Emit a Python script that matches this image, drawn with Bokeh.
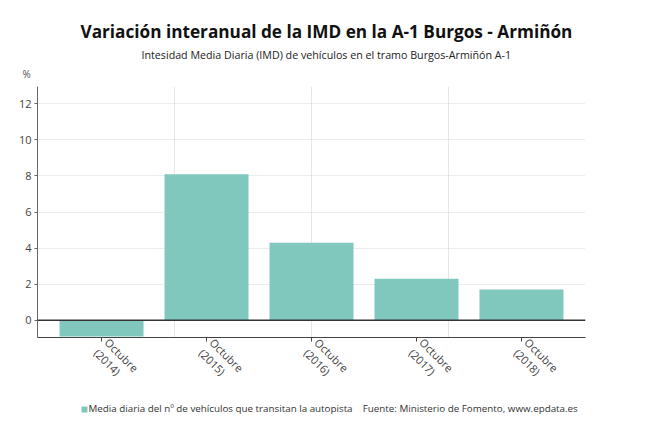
import math

from bokeh.embed import file_html
from bokeh.models import ColumnDataSource, FixedTicker, LinearAxis, Range1d, Span, Title
from bokeh.plotting import figure
from bokeh.resources import INLINE

# Year-on-year change of the average daily traffic (IMD), A-1 Burgos - Armiñón
years = ["2014", "2015", "2016", "2017", "2018"]
month = "Octubre"
variation = [-0.9, 8.1, 4.3, 2.3, 1.7]
y_ticks = [0, 2, 4, 6, 8, 10, 12]

title_text = "Variación interanual de la IMD en la A-1 Burgos - Armiñón"
subtitle_text = "Intesidad Media Diaria (IMD) de vehículos en el tramo Burgos-Armiñón A-1"
unit_text = "%"
series_name = "Media diaria del nº de vehículos que transitan la autopista"
source_text = "Fuente: Ministerio de Fomento, www.epdata.es"

FONT = "Open Sans"
BAR = "#80c8be"
TEXT = "#333333"
W, H = 650, 438
BORDER_L, BORDER_R, BORDER_T, BORDER_B = 37, 65, 86, 101
FRAME_W = W - BORDER_L - BORDER_R

xs = list(range(len(years)))
labels = {i: f"{month}\n({y})" for i, y in zip(xs, years)}
src = ColumnDataSource(dict(x=xs, top=variation))

x_lo, x_hi = -0.61, len(years) - 1 + 0.61
span = x_hi - x_lo

p = figure(
    width=W, height=H,
    output_backend="svg", toolbar_location=None,
    x_range=Range1d(x_lo, x_hi), y_range=Range1d(-0.96, 12.96),
    min_border_left=BORDER_L, min_border_right=BORDER_R,
    min_border_top=BORDER_T, min_border_bottom=BORDER_B,
    background_fill_color="white", border_fill_color="white",
    outline_line_color=None,
)

bars = p.vbar(x="x", top="top", bottom=0, width=0.8, source=src,
              fill_color=BAR, line_color=None)

# zero line
p.add_layout(Span(location=0, dimension="width", line_color="#333333", line_width=1.5))

# horizontal grid: dotted light grey
p.ygrid.ticker = FixedTicker(ticks=y_ticks)
p.ygrid.grid_line_color = "#d9d9d9"
p.ygrid.grid_line_dash = "1 1"
p.ygrid.grid_line_width = 1

# vertical grid: four equal bands across the frame
p.xgrid.ticker = FixedTicker(ticks=[x_lo + span * k / 4 for k in (1, 2, 3, 4)])
p.xgrid.grid_line_color = "#e6e6e6"
p.xgrid.grid_line_width = 1

# y axis
p.yaxis.ticker = FixedTicker(ticks=y_ticks)
p.yaxis.axis_line_color = "#666666"
p.yaxis.major_tick_line_color = "#666666"
p.yaxis.major_tick_out = 3
p.yaxis.major_tick_in = 0
p.yaxis.minor_tick_line_color = None
p.yaxis.major_label_standoff = 3
p.yaxis.major_label_text_font = FONT
p.yaxis.major_label_text_font_size = "11px"
p.yaxis.major_label_text_color = "#444444"

# x axis with slanted two-line category labels
p.xaxis.ticker = FixedTicker(ticks=xs)
p.xaxis.major_label_overrides = labels
p.xaxis.major_label_orientation = -math.pi / 4
p.xaxis.axis_line_color = "#444444"
p.xaxis.major_tick_line_color = "#444444"
p.xaxis.major_tick_out = 4
p.xaxis.major_tick_in = 0
p.xaxis.minor_tick_line_color = None
p.xaxis.major_label_standoff = 4
p.xaxis.major_label_text_font = FONT
p.xaxis.major_label_text_font_size = "11px"
p.xaxis.major_label_text_color = "#444444"
p.xaxis.major_label_text_line_height = 1.0


def heading(text, side, x_left, standoff, size, color, bold=False):
    """Left-aligned title placed x_left px from the canvas edge."""
    p.add_layout(Title(text=text, align="left", offset=x_left - BORDER_L,
                       standoff=standoff, text_font=FONT, text_font_size=size,
                       text_font_style="bold" if bold else "normal",
                       text_color=color), side)


# headings stacked above the frame, innermost first
heading(unit_text, "above", 22, 11, "10px", "#555555")
heading(subtitle_text, "above", 141, -5, "10.7px", "#222222")
heading(title_text, "above", 80, 11, "17.2px", "#111111", bold=True)

# footer row: series name and source note on one line
gap = "\u00a0" * 4
heading(series_name + gap + source_text, "below", 88, 1, "9.8px", TEXT)

# legend swatch: a single thick tick of a bare axis, pointing up into the footer row
swatch_x = x_lo + (83.5 - BORDER_L) * span / FRAME_W
key_axis = LinearAxis(
    ticker=FixedTicker(ticks=[swatch_x]),
    major_label_overrides={swatch_x: ""},
    axis_line_color=None, minor_tick_line_color=None,
    major_tick_line_color=BAR, major_tick_line_width=6,
    major_tick_in=9, major_tick_out=-3,
    major_label_standoff=0, major_label_text_font_size="1px",
)
p.add_layout(key_axis, "below")

with open("out.html", "w") as f:
    f.write(file_html(p, INLINE))
